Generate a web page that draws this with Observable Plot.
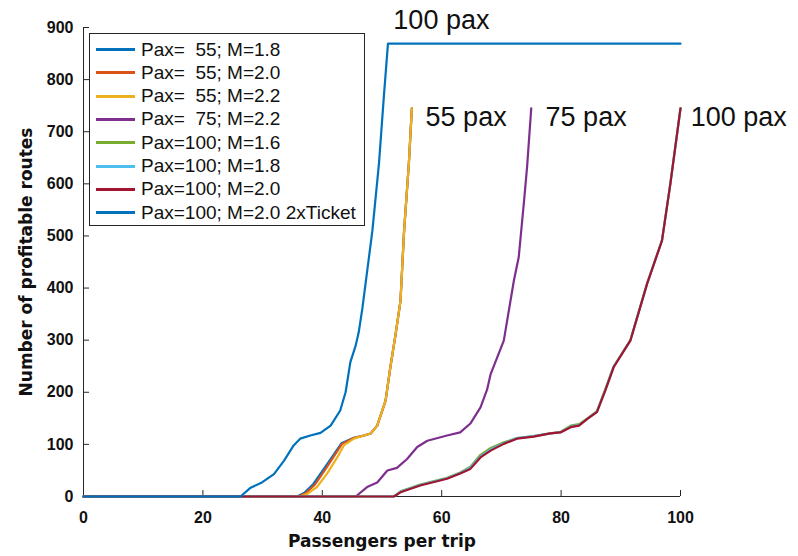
<!DOCTYPE html>
<html>
<head>
<meta charset="utf-8">
<script src="https://cdn.jsdelivr.net/npm/d3@7"></script>
<script src="https://cdn.jsdelivr.net/npm/@observablehq/plot@0.6"></script>
<style>
  html, body { margin: 0; padding: 0; background: #fff; }
  #wrap { position: relative; width: 798px; height: 556px; }
  #legend { position: absolute; left: 89px; top: 33px; width: 276px; height: 193px;
    border: 1px solid #262626; background: #fff; box-sizing: border-box;
    font-family: "Liberation Sans", Arial, sans-serif; font-size: 19px; color: #111; }
  .row { position: absolute; left: 0; height: 23px; display: flex; align-items: center; white-space: pre; }
  .sw { width: 39px; height: 3px; margin-left: 6px; margin-right: 6px; }
</style>
</head>
<body>
<div id="wrap"></div>
<script>
// ---- data ----
const labels = [
  "Pax=  55; M=1.8",
  "Pax=  55; M=2.0",
  "Pax=  55; M=2.2",
  "Pax=  75; M=2.2",
  "Pax=100; M=1.6",
  "Pax=100; M=1.8",
  "Pax=100; M=2.0",
  "Pax=100; M=2.0 2xTicket"
];
const colors = ["#0072BD", "#D95319", "#EDB120", "#7E2F8E", "#77AC30", "#4DBEEE", "#A2142F", "#0072BD"];

const x55m18 = [0, 35.8, 37.0, 38.5, 40.2, 42.0, 43.2, 45.1, 47.0, 48.1, 49.2, 50.6, 51.4, 52.3, 53.1, 53.7, 54.5, 55.0];
const y55m18 = [0, 0, 7, 24, 52, 82, 102, 112, 117, 121, 136, 184, 248, 313, 376, 510, 639, 745];
const x55m20 = [0, 36.0, 37.2, 38.7, 40.4, 42.1, 43.3, 45.2, 47.0, 48.1, 49.2, 50.6, 51.4, 52.3, 53.1, 53.7, 54.5, 55.0];
const y55m20 = [0, 0, 6, 22, 50, 80, 101, 112, 117, 121, 136, 184, 248, 313, 376, 510, 639, 745];
const x55m22 = [0, 36.3, 37.5, 39.1, 40.8, 42.5, 43.6, 45.3, 47.0, 48.1, 49.2, 50.6, 51.4, 52.3, 53.1, 53.7, 54.5, 55.0];
const y55m22 = [0, 0, 5, 18, 44, 75, 98, 111, 117, 121, 136, 184, 248, 313, 376, 510, 639, 745];
const x75m22 = [0, 45.6, 47.5, 49.2, 50.9, 52.5, 54.2, 55.9, 57.6, 60.9, 63.1, 64.8, 66.5, 67.6, 68.2, 70.4, 72.1, 72.9, 73.8, 74.3, 75.0];
const y75m22 = [0, 0, 18, 27, 50, 55, 72, 95, 107, 117, 123, 140, 171, 205, 235, 299, 415, 459, 568, 632, 745];
const x100m16 = [0, 52.0, 53.1, 56.4, 60.9, 63.1, 64.8, 66.5, 68.2, 70.4, 72.6, 75.4, 78.2, 79.9, 81.6, 83.0, 84.4, 86.0, 87.4, 88.8, 91.6, 94.4, 96.9, 98.3, 100];
const y100m16 = [0, 0, 10, 23, 36, 46, 57, 80, 93, 104, 112, 116, 121, 124, 136, 139, 150, 164, 206, 250, 300, 409, 492, 601, 745];
const x100m18 = [0, 52.0, 53.1, 56.4, 60.9, 63.1, 64.8, 66.5, 68.2, 70.4, 72.6, 75.4, 78.2, 79.9, 81.6, 83.0, 84.4, 86.0, 87.4, 88.8, 91.6, 94.4, 96.9, 98.3, 100];
const y100m18 = [0, 0, 9, 22, 35, 45, 55, 77, 90, 102, 112, 116, 121, 123, 134, 137, 149, 163, 204, 249, 299, 408, 491, 600, 745];
const x100m20 = [0, 52.0, 53.1, 56.4, 60.9, 63.1, 64.8, 66.5, 68.2, 70.4, 72.6, 75.4, 78.2, 79.9, 81.6, 83.0, 84.4, 86.0, 87.4, 88.8, 91.6, 94.4, 96.9, 98.3, 100];
const y100m20 = [0, 0, 8, 21, 34, 44, 53, 75, 88, 101, 111, 115, 121, 123, 133, 136, 149, 162, 203, 248, 299, 408, 491, 600, 745];
const x2xTicket = [0, 26.3, 28.0, 29.9, 31.9, 33.6, 35.2, 36.3, 38.0, 39.7, 41.4, 43.0, 43.9, 44.7, 45.6, 46.1, 46.7, 48.4, 49.5, 50.3, 51.0, 100];
const y2xTicket = [0, 0, 17, 27, 43, 69, 98, 111, 117, 122, 136, 165, 200, 258, 290, 315, 360, 511, 640, 766, 869, 869];

const annX = [51.9, 57.3, 77.4, 101.7];
const annY = [913, 727, 727, 727];
const annText = ["100 pax", "55 pax", "75 pax", "100 pax"];

const xTicks = [0, 20, 40, 60, 80, 100];
const yTicks = [0, 100, 200, 300, 400, 500, 600, 700, 800, 900];
const xLabel = "Passengers per trip";
const yLabel = "Number of profitable routes";

// ---- build table ----
const seriesX = [x55m18, x55m20, x55m22, x75m22, x100m16, x100m18, x100m20, x2xTicket];
const seriesY = [y55m18, y55m20, y55m22, y75m22, y100m16, y100m18, y100m20, y2xTicket];
const rows = [];
seriesX.forEach((xs, i) => xs.forEach((x, j) => rows.push({s: labels[i], x, y: seriesY[i][j]})));
const ann = annText.map((t, i) => ({t, x: annX[i], y: annY[i]}));

const axisColor = "#262626";
const chart = Plot.plot({
  width: 798, height: 556,
  marginLeft: 83, marginRight: 118, marginTop: 27, marginBottom: 60,
  style: {fontFamily: "'Liberation Sans', Arial, sans-serif", background: "white", overflow: "visible"},
  x: {domain: [0, 100]},
  y: {domain: [0, 900]},
  color: {domain: labels, range: colors},
  marks: [
    Plot.ruleY([0], {stroke: axisColor, strokeWidth: 1}),
    Plot.ruleX([0], {stroke: axisColor, strokeWidth: 1}),
    Plot.axisX({ticks: xTicks, tickSize: -6, tickPadding: 21, tickFormat: d => d, fontSize: 16, fontWeight: "bold", stroke: axisColor, color: axisColor,
      label: xLabel, labelArrow: "none", labelAnchor: "center", labelOffset: 50}),
    Plot.axisY({ticks: yTicks, tickSize: -6, tickPadding: 16, tickFormat: d => d, fontSize: 16, fontWeight: "bold", stroke: axisColor, color: axisColor,
      label: yLabel, labelArrow: "none", labelAnchor: "center", labelOffset: 64}),
    Plot.line(rows, {x: "x", y: "y", z: "s", stroke: "s", strokeWidth: 2.2, curve: "linear"}),
    Plot.text(ann, {x: "x", y: "y", text: "t", textAnchor: "start", lineAnchor: "middle", fontSize: 27, fill: "#111", clip: false})
  ]
});
// style axis labels
const sel = d3.select(chart);
sel.selectAll("[aria-label='x-axis label'] text").text(xLabel);
sel.selectAll("[aria-label='y-axis label'] text").text(yLabel);
sel.selectAll("[aria-label='x-axis label'] text, [aria-label='y-axis label'] text")
  .attr("font-family", "'DejaVu Sans', sans-serif").attr("font-weight", "bold").attr("font-size", 17).attr("fill", "#111");
sel.selectAll("[aria-label='x-axis tick label'] text, [aria-label='y-axis tick label'] text").attr("fill", "#111");

const wrap = document.getElementById("wrap");
wrap.appendChild(chart);

// legend
const lg = d3.select(wrap).append("div").attr("id", "legend");
labels.forEach((l, i) => {
  const r = lg.append("div").attr("class", "row").style("top", (4 + i * 23.3) + "px");
  r.append("div").attr("class", "sw").style("background", colors[i]);
  r.append("span").text(l);
});
</script>
</body>
</html>
